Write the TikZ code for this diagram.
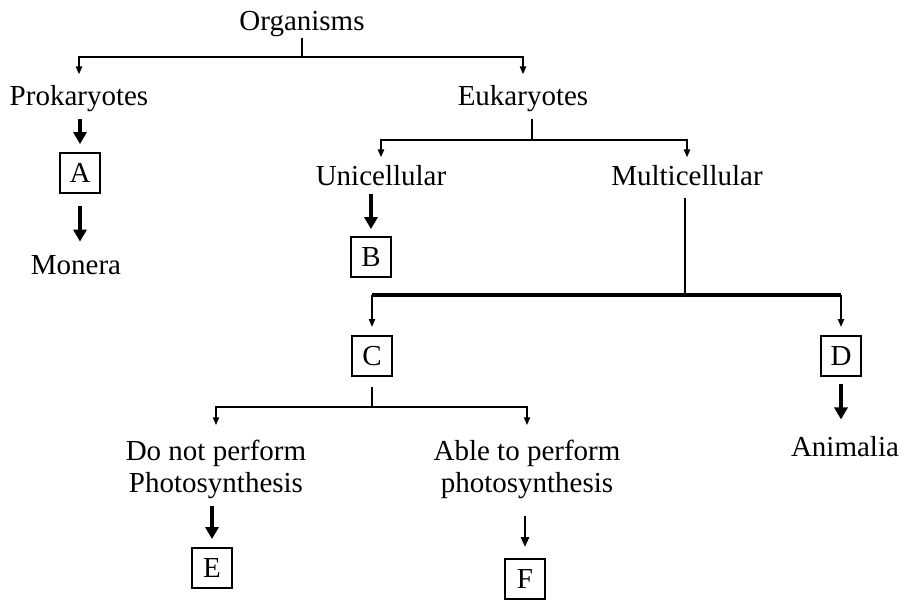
\documentclass[tikz,border=0pt]{standalone}
\usepackage{fontspec}
\setmainfont{Liberation Serif}
\usetikzlibrary{arrows.meta}
\tikzset{
  lbl/.style={font=\fontsize{14.5}{16}\selectfont,inner sep=0pt,anchor=base,align=center},
  letterbox/.style={draw,line width=0.9pt,minimum width=20pt,minimum height=20pt,inner sep=0pt,font=\fontsize{14.5}{16}\selectfont},
  branch/.style={line width=1.2pt},
  heavybranch/.style={line width=2.4pt},
  drop/.style={line width=1pt,shorten >=5pt,-{Triangle[length=4pt,width=3pt]}},
  bigarrow/.style={line width=2pt,shorten <=3pt,shorten >=4pt,-{Triangle[length=6pt,width=6.5pt]}},
  midarrow/.style={line width=1.3pt,-{Triangle[length=5pt,width=4pt]}}
}

\begin{document}
\begin{tikzpicture}[x=0.5pt,y=-0.5pt]
\useasboundingbox (0,0) rectangle (905,604);
% labels
\node[lbl] (org) at (302,31) {Organisms};
\node[lbl] (pro) at (79,106) {Prokaryotes};
\node[lbl] (euk) at (523,106) {Eukaryotes};
\node[lbl] (mon) at (76,275) {Monera};
\node[lbl] (uni) at (381,186) {Unicellular};
\node[lbl] (mul) at (687,186) {Multicellular};
\node[lbl] (ani) at (845,456) {Animalia};
\node[lbl,anchor=center] (nop) at (216,469) {Do not perform\\Photosynthesis};
\node[lbl,anchor=center] (abl) at (527,469) {Able to perform\\photosynthesis};
% boxes
\node[letterbox] (a) at (80,173) {A};
\node[letterbox] (b) at (371,257) {B};
\node[letterbox] (c) at (372,356) {C};
\node[letterbox] (d) at (841,356) {D};
\node[letterbox] (e) at (212,568) {E};
\node[letterbox] (f) at (525,579) {F};
% split points
\coordinate (k1) at (302,57);
\coordinate (k2) at (532,140);
\coordinate (k3) at (685,295);
\coordinate (k4) at (372,407);
% top split
\draw[branch] (org) -- (k1);
\draw[drop,shorten >=5.5pt] (k1) -| (pro);
\draw[drop,shorten >=5.5pt] (k1) -| (euk);
\draw[bigarrow,shorten >=4pt] (pro.south -| a) -- (a);
\draw[bigarrow,shorten <=6pt,shorten >=7pt] (a) -- (a |- mon.north);
% eukaryotes
\draw[branch,shorten <=3pt] (euk.south -| k2) -- (k2);
\draw[drop,shorten >=4pt] (k2) -| (uni);
\draw[drop,shorten >=4pt] (k2) -| (mul);
\draw[bigarrow,shorten <=3.5pt,shorten >=3.5pt] (uni.south -| b) -- (b);
% multicellular
\draw[branch,shorten <=5.5pt] (mul.south -| k3) -- (k3);
\draw[heavybranch] (c |- k3) -- (d |- k3);
\draw[drop,shorten >=4pt] (c |- k3) -- (c);
\draw[drop,shorten >=4pt] (d |- k3) -- (d);
\draw[bigarrow,shorten <=3.5pt,shorten >=8pt] (d) -- (d |- ani.north);
% C split
\draw[branch,shorten <=5pt] (c) -- (k4);
\draw[drop,shorten >=7pt] (k4) -| (nop);
\draw[drop,shorten >=7pt] (k4) -| (abl);
\draw[bigarrow,shorten <=3.5pt] (nop.south -| e) -- (e);
\draw[midarrow,shorten <=8.5pt,shorten >=5.5pt] (abl.south -| f) -- (f);
\end{tikzpicture}
\end{document}
